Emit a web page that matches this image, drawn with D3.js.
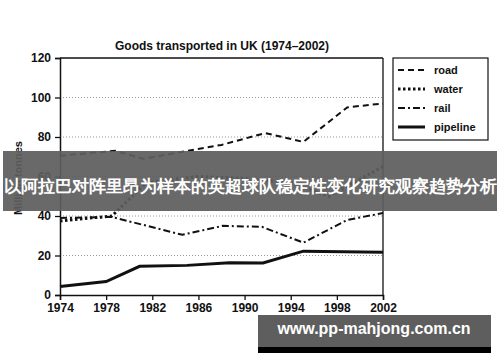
<!DOCTYPE html>
<html>
<head>
<meta charset="utf-8">
<script src="https://cdn.jsdelivr.net/npm/d3@7"></script>
<style>
  body { margin: 0; background: #fff; }
  svg { display: block; }
  text { font-family: "Liberation Sans", Arial, sans-serif; }
</style>
</head>
<body>
<svg id="chart" width="500" height="362"></svg>
<script>
// DATA
var title = "Goods transported in UK (1974\u20132002)";
var yLabel = "Million tonnes";
var xTicks = [1974, 1978, 1982, 1986, 1990, 1994, 1998, 2002];
var yTicks = [0, 20, 40, 60, 80, 100, 120];

var roadYears = [1974, 1978.8, 1981.2, 1988, 1991.8, 1995.1, 1998.9, 2002];
var roadValues = [70.5, 73, 69, 76, 82, 77.5, 95, 97];

var waterYears = [1974, 1978.5, 1981.5, 1986, 1990, 1994, 1997.3, 2002];
var waterValues = [37.5, 40, 57, 60, 59, 57, 50, 65];

var railYears = [1974, 1978.5, 1984.6, 1988.1, 1991.5, 1995.1, 1998.9, 2002];
var railValues = [39, 39.5, 30.5, 35, 34.5, 26.5, 38, 41.5];

var pipelineYears = [1974, 1978, 1980.9, 1985, 1988.7, 1991.6, 1995.1, 2002];
var pipelineValues = [4.3, 6.8, 14.5, 15, 16.3, 16.2, 22.2, 21.6];

var seriesNames = ["road", "water", "rail", "pipeline"];

var bannerText = "以阿拉巴对阵里昂为样本的英超球队稳定性变化研究观察趋势分析";
var urlText = "www.pp-mahjong.com.cn";

// MAIN
var svg = d3.select("#chart");

var x = d3.scaleLinear().domain([1974, 2002]).range([60, 383]);
var y = d3.scaleLinear().domain([0, 120]).range([295, 58]);

var styles = {
    road: { dash: "6,4", width: 2 },
    water: { dash: "2.5,2.5", width: 3 },
    rail: { dash: "7,3,2,3", width: 2 },
    pipeline: { dash: null, width: 3 }
};

// dotted grid
svg.append("g")
    .selectAll("line")
    .data([20, 40, 60, 80, 100])
    .enter().append("line")
    .attr("x1", x(1974)).attr("x2", x(2002))
    .attr("y1", function (d) { return y(d); })
    .attr("y2", function (d) { return y(d); })
    .attr("stroke", "#999")
    .attr("stroke-width", 1)
    .attr("stroke-dasharray", "1,2");

// frame top / right
svg.append("line")
    .attr("x1", x(1974)).attr("x2", x(2002))
    .attr("y1", y(120)).attr("y2", y(120))
    .attr("stroke", "#111").attr("stroke-width", 1.3);
svg.append("line")
    .attr("x1", x(2002)).attr("x2", x(2002))
    .attr("y1", y(120)).attr("y2", y(0))
    .attr("stroke", "#111").attr("stroke-width", 1.3);

// axes
var yAxis = svg.append("g")
    .attr("transform", "translate(" + x(1974) + ",0)")
    .call(d3.axisLeft(y).tickValues(yTicks).tickSize(5).tickPadding(4));
var xAxis = svg.append("g")
    .attr("transform", "translate(0," + y(0) + ")")
    .call(d3.axisBottom(x).tickValues(xTicks).tickFormat(d3.format("d")).tickSize(5).tickPadding(3));

[yAxis, xAxis].forEach(function (a) {
    a.select(".domain").attr("stroke", "#111").attr("stroke-width", 1.5);
    a.selectAll(".tick line").attr("stroke", "#111").attr("stroke-width", 1.3);
    a.selectAll("text")
        .attr("font-family", "'Liberation Sans', Arial, sans-serif")
        .attr("font-size", 12)
        .attr("font-weight", "bold")
        .attr("fill", "#111");
});

// title + y label
svg.append("text")
    .attr("x", 222).attr("y", 50)
    .attr("text-anchor", "middle")
    .attr("font-size", 12).attr("font-weight", "bold")
    .attr("fill", "#111")
    .text(title);

svg.append("text")
    .attr("transform", "translate(22,178) rotate(-90)")
    .attr("text-anchor", "middle")
    .attr("font-size", 11).attr("font-weight", "bold")
    .attr("fill", "#111")
    .text(yLabel);

// lines
var seriesData = {
    road: d3.zip(roadYears, roadValues),
    water: d3.zip(waterYears, waterValues),
    rail: d3.zip(railYears, railValues),
    pipeline: d3.zip(pipelineYears, pipelineValues)
};

var line = d3.line()
    .x(function (d) { return x(d[0]); })
    .y(function (d) { return y(d[1]); });

seriesNames.forEach(function (name) {
    svg.append("path")
        .datum(seriesData[name])
        .attr("d", line)
        .attr("fill", "none")
        .attr("stroke", "#111")
        .attr("stroke-width", styles[name].width)
        .attr("stroke-dasharray", styles[name].dash);
});

// legend
var legend = svg.append("g");
legend.append("rect")
    .attr("x", 393).attr("y", 58)
    .attr("width", 95).attr("height", 82)
    .attr("fill", "#fff").attr("stroke", "#111").attr("stroke-width", 1.2);

var item = legend.selectAll("g.item")
    .data(seriesNames)
    .enter().append("g")
    .attr("class", "item")
    .attr("transform", function (d, i) { return "translate(0," + (70 + i * 19) + ")"; });

item.append("line")
    .attr("x1", 398).attr("x2", 425)
    .attr("stroke", "#111")
    .attr("stroke-width", function (d) { return styles[d].width; })
    .attr("stroke-dasharray", function (d) { return styles[d].dash; });

item.append("text")
    .attr("x", 434).attr("dy", "0.35em")
    .attr("font-size", 11).attr("font-weight", "bold")
    .attr("fill", "#111")
    .text(function (d) { return d; });

// overlay banners
svg.append("rect")
    .attr("x", 3).attr("y", 151)
    .attr("width", 494).attr("height", 60)
    .attr("fill", "#5e5e5e").attr("opacity", 0.93);
svg.append("text")
    .attr("x", 250).attr("y", 192)
    .attr("text-anchor", "middle")
    .attr("font-family", "'Noto Sans CJK SC', sans-serif")
    .attr("font-size", 17).attr("font-weight", "bold")
    .attr("fill", "#fff")
    .text(bannerText);

svg.append("rect")
    .attr("x", 258).attr("y", 315)
    .attr("width", 233).attr("height", 32)
    .attr("fill", "#5e5e5e");
svg.append("rect")
    .attr("x", 258).attr("y", 347)
    .attr("width", 233).attr("height", 6)
    .attr("fill", "#000");
svg.append("text")
    .attr("x", 374).attr("y", 334)
    .attr("text-anchor", "middle")
    .attr("font-family", "'Noto Sans', 'DejaVu Sans', sans-serif")
    .attr("font-size", 16).attr("font-weight", "bold")
    .attr("fill", "#fff")
    .text(urlText);
</script>
</body>
</html>
